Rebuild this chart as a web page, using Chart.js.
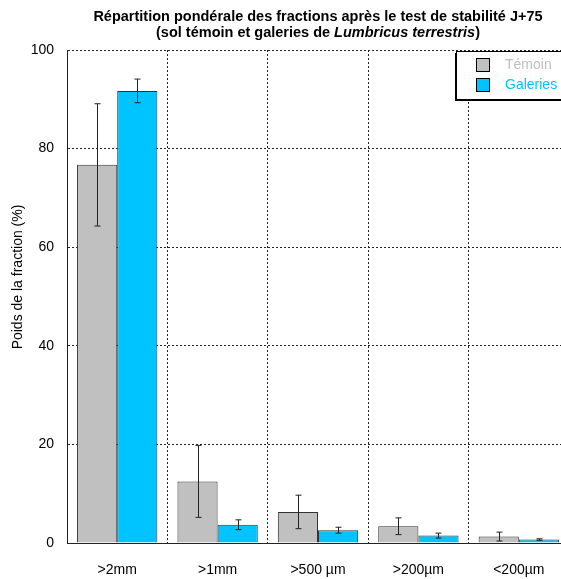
<!DOCTYPE html>
<html>
<head>
<meta charset="utf-8">
<script src="https://cdn.jsdelivr.net/npm/chart.js@4"></script>
<style>
  html, body { margin: 0; padding: 0; overflow: hidden; background: #fff; }
  #wrap { width: 570px; height: 579px; }
</style>
</head>
<body>
<div id="wrap"><canvas id="myChart" width="570" height="579"></canvas></div>
<script>
// categories (size fractions)
var categories = ['>2mm', '>1mm', '>500 µm', '>200µm', '<200µm'];
// mean weight of each fraction (%)
var temoin = [76.7, 12.5, 6.3, 3.4, 1.3];
var galeries = [91.7, 3.7, 2.6, 1.5, 0.7];
// error bars (+/-)
var temoinErr = [12.4, 7.3, 3.4, 1.7, 0.9];
var galeriesErr = [2.4, 1.0, 0.6, 0.5, 0.15];
var yTicks = [0, 20, 40, 60, 80, 100];

var grey = '#c0c0c0';
var blue = '#00c4ff';
var font = '"Liberation Sans", Arial, sans-serif';

// draws the +/- error bars on top of each bar
var errorBars = {
  id: 'errorBars',
  afterDatasetsDraw: function(chart) {
    var ctx = chart.ctx;
    var y = chart.scales.y;
    chart.data.datasets.forEach(function(ds, i) {
      var meta = chart.getDatasetMeta(i);
      meta.data.forEach(function(bar, j) {
        var v = ds.data[j], e = ds.err[j];
        var top = y.getPixelForValue(v + e);
        var bot = y.getPixelForValue(v - e);
        var x = Math.round(bar.x) + 0.5;
        ctx.save();
        ctx.strokeStyle = '#222';
        ctx.lineWidth = 1;
        ctx.beginPath();
        ctx.moveTo(x, top); ctx.lineTo(x, bot);
        ctx.moveTo(x - 3, top); ctx.lineTo(x + 3, top);
        ctx.moveTo(x - 3, bot); ctx.lineTo(x + 3, bot);
        ctx.stroke();
        ctx.restore();
      });
    });
  }
};

// two line title with italic species name, plus the y axis title
var titlePlugin = {
  id: 'twoLineTitle',
  afterDraw: function(chart) {
    var ctx = chart.ctx;
    var cx = (chart.chartArea.left + chart.chartArea.right) / 2;
    ctx.save();
    ctx.fillStyle = '#000';
    ctx.textBaseline = 'middle';
    ctx.textAlign = 'center';
    ctx.font = 'bold 14.5px ' + font;
    ctx.fillText('Répartition pondérale des fractions après le test de stabilité J+75', cx, 17);
    var parts = [
      ['(sol témoin et galeries de ', 'bold 14.5px ' + font],
      ['Lumbricus terrestris', 'italic bold 14.5px ' + font],
      [')', 'bold 14.5px ' + font]
    ];
    var w = 0;
    parts.forEach(function(p) { ctx.font = p[1]; w += ctx.measureText(p[0]).width; });
    var x = cx - w / 2;
    ctx.textAlign = 'left';
    parts.forEach(function(p) {
      ctx.font = p[1];
      ctx.fillText(p[0], x, 33);
      x += ctx.measureText(p[0]).width;
    });
    // y axis title
    ctx.translate(18, 277);
    ctx.rotate(-Math.PI / 2);
    ctx.textAlign = 'center';
    ctx.font = '14px ' + font;
    ctx.fillText('Poids de la fraction (%)', 0, 0);
    ctx.restore();
  }
};

// boxed legend with a small drop shadow, top right
var boxLegend = {
  id: 'boxLegend',
  afterDraw: function(chart) {
    var ctx = chart.ctx;
    var bx = 456, by = 51, bw = 130, bh = 48;
    ctx.save();
    ctx.fillStyle = '#000';
    ctx.fillRect(bx - 1, by + 2, bw, bh);
    ctx.fillStyle = '#fff';
    ctx.fillRect(bx, by, bw, bh);
    ctx.strokeStyle = '#000';
    ctx.lineWidth = 1;
    ctx.strokeRect(bx + 0.5, by + 0.5, bw, bh);
    ctx.font = '14px ' + font;
    ctx.textBaseline = 'middle';
    chart.data.datasets.forEach(function(ds, i) {
      var sy = 58 + i * 20;
      ctx.fillStyle = ds.backgroundColor;
      ctx.fillRect(476, sy, 14, 14);
      ctx.strokeStyle = '#000';
      ctx.strokeRect(476.5, sy + 0.5, 13, 13);
      ctx.fillStyle = ds.backgroundColor;
      ctx.fillText(ds.label, 505, sy + 7.5);
    });
    ctx.restore();
  }
};

var ctx = document.getElementById('myChart').getContext('2d');
var myChart = new Chart(ctx, {
  type: 'bar',
  data: {
    labels: categories,
    datasets: [{
      label: 'Témoin',
      data: temoin,
      err: temoinErr,
      backgroundColor: grey,
      borderColor: '#333',
      borderWidth: 1,
      categoryPercentage: 0.8,
      barPercentage: 1.0
    }, {
      label: 'Galeries',
      data: galeries,
      err: galeriesErr,
      backgroundColor: blue,
      borderColor: '#333',
      borderWidth: 1,
      categoryPercentage: 0.8,
      barPercentage: 1.0
    }]
  },
  options: {
    responsive: false,
    animation: false,
    layout: { padding: { top: 50, right: 1, left: 0, bottom: 0 } },
    plugins: {
      legend: { display: false },
      title: { display: false },
      tooltip: { enabled: false }
    },
    scales: {
      x: {
        afterFit: function(s) { s.height = 36; },
        grid: { color: '#222', drawTicks: false, offset: true },
        border: { color: '#222', dash: [2, 2] },
        ticks: { color: '#000', padding: 19, font: { family: font, size: 14 } }
      },
      y: {
        min: 0,
        max: 100,
        afterFit: function(s) { s.width = 67; },
        afterBuildTicks: function(s) { s.ticks = yTicks.map(function(v) { return { value: v }; }); },
        grid: { color: '#222', drawTicks: false },
        border: { color: '#222', dash: [2, 2] },
        ticks: { color: '#000', padding: 13, font: { family: font, size: 14 } }
      }
    }
  },
  plugins: [errorBars, titlePlugin, boxLegend]
});
</script>
</body>
</html>
